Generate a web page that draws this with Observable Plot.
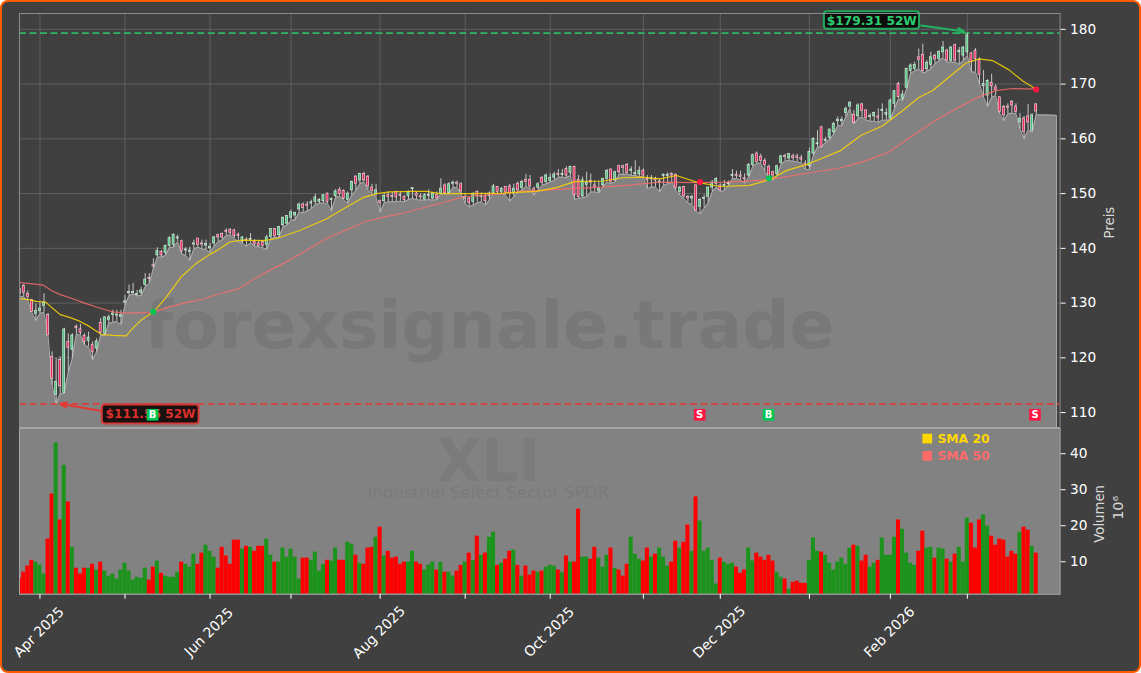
<!DOCTYPE html>
<html><head><meta charset="utf-8">
<script src="https://cdn.jsdelivr.net/npm/d3@7"></script>
<script src="https://cdn.jsdelivr.net/npm/@observablehq/plot@0.6"></script>
<style>
html,body{margin:0;padding:0;background:#fff}
#wrap{position:absolute;left:0;top:0;width:1141px;height:673px;box-sizing:border-box;border:2.5px solid #ff5a00;border-radius:8px;background:#404040;overflow:hidden}
#main,#vol{position:absolute;left:-2.5px}
#main{top:-2.5px}
#vol{top:425.5px}
svg{display:block;overflow:visible}
</style></head><body>
<div id="wrap"><div id="main"></div><div id="vol"></div></div>
<script>
const high=[132.8,133.4,132.2,130.7,129.8,130.1,131.7,128.1,121.1,119.9,
120.2,125.4,124.4,124.4,126,126.1,124.4,124.7,122.9,123.5,
127.2,127.5,127.8,128.7,128.7,128.7,131.4,133.3,133.6,132.3,
132.9,135.4,135.4,138.1,140.1,139.6,140.6,142.1,142.6,142.4,
141.5,140.2,140.2,141.5,141.8,141.5,141.5,140.9,142.2,142.6,
142.8,143.6,143.6,143.4,142.8,142.1,141.9,142.7,141.6,141.5,
141.5,142.4,143.6,143.6,144,145.7,146,147,146.6,148.3,
148.3,148.5,148.8,149.9,149.1,149.8,150.1,149.2,150.7,151.1,
150.7,150.3,152.3,153.3,153.7,153.9,153.3,151.7,151.7,148.8,
150,150.3,150.2,150.4,150.3,149.6,150.5,151.1,150.3,150,
150,150.7,150.2,150.3,152.7,151.8,152,152.3,152.3,152,
150,149.3,150.1,150.5,150.1,150,150.3,151.7,151.3,151.1,
151.3,151.7,151.7,152.1,152.4,153.5,153.3,151.2,152,153.1,
153.6,153.6,153.9,154.4,154.4,154.9,155,155,153.3,153,
153.9,153.6,152.3,152.3,152.8,154.4,154.5,154.1,155.2,155.2,
155.5,154.9,156,154.9,154.5,153.3,153.3,153,152.7,153.6,
153.8,153.8,153.6,151.3,151.3,149.7,149.7,151.6,149.1,149.7,
151.2,152.4,152.9,151.8,152.4,152.3,154.4,154.1,154.1,153.6,
155.5,157.2,157.6,157.2,156.4,155.2,154.1,155.2,157,157.2,
157.3,157.2,157.2,157,156,158.3,160.2,161.5,162.3,160.3,
161.8,163,164,164,165.8,166.8,165.2,166.4,166.5,165.3,
164.6,164.9,165.5,166.4,165.5,167.3,168.8,170.3,168.8,172.9,
173.7,174,176.4,177.3,174.3,175.8,175.5,176.1,177.8,176.4,
176.8,177.3,176.7,176.8,179.31,175.8,176.5,174.8,172.5,170.8,
171.8,169.9,167.7,166.1,166.4,167,166.4,164.6,164.1,166.3,164.6,166.4];
const bodyTop=[132.6,133.1,131.7,130.5,128.6,129,130,127.8,120.2,115.6,
119.6,125.2,122.9,124.1,125.7,125.2,124,123.7,122.4,123,
126.4,127.4,127.4,128.1,127.9,127.8,130.3,132,132,131.7,
132.3,134.3,134.6,136.9,139.5,139.3,140.4,141.9,142.5,142,
141.3,139.8,139.6,140.9,141.8,140.9,140.8,140.3,142,142.4,
142.6,143.2,143.4,143.3,142.5,142,141.6,141.7,141.2,140.9,
141.2,142,143.5,143.5,143.9,145.6,145.9,146.6,146.5,148,
148,148,148.4,149.3,148.8,149.7,150,149,150.4,150.7,
150.5,150,152.1,153.1,153.6,153.6,153.1,151.1,150.6,148.6,
149.6,149.7,149.6,150.3,149.8,149.4,150.3,151,150,149.5,
149.7,149.8,150,149.7,150.9,151.5,151.7,152,152,151.7,
149.4,149.1,150,150.3,149.6,149.5,150,151.3,151.2,150.9,
151.2,151.3,150.9,151.8,152.1,152.5,152.5,150.8,151.7,152.9,
153.3,152.9,153.5,153.6,153.6,154.5,154.9,154.9,152.5,152.4,
152,152.3,151.5,150.9,152.7,154.1,154.4,153.9,155,155,
155.2,154.4,153.8,154.2,154.2,152.7,152.8,152.7,152.2,153.45,
153.45,153.6,153.45,151.1,151.2,149.4,149.4,151.5,148.8,149.2,
151.1,152,152.7,151.5,151.6,151.9,153.45,153.45,153.3,152.8,
155.2,157,157.3,156.7,156,154.9,153.9,155,156.8,156.9,
157.2,156.8,156.8,156.5,155.5,157.6,160,159.2,162.1,159.8,
161.7,162.7,163.5,163.5,165.5,166.6,164.4,166.1,166.3,165.2,
164.2,164.7,164.1,165.3,164.7,167,168.7,170,168.1,172.8,
173.4,173.5,174.9,175.3,173.9,174.9,175.1,175.9,176.7,176.1,
176.7,177.1,176.1,176.7,178.9,175.6,176.1,174.4,170,170.6,
170.2,169.4,167.6,165.8,165.9,166.7,165.9,163.7,163.7,164.1,164.3,166.3];
const bodyBottom=[131.6,131.9,131.1,128.4,128,128.5,129.5,124.1,116.2,113.2,
114.8,113.6,121.8,121.4,125.4,124.6,122.9,123.1,121,121.7,
124.6,124.4,126.9,127.8,127.7,127.5,130.1,131.8,131.8,131.5,
131.9,133.3,134.4,136.7,138.7,138.7,139.2,140.4,140.6,141.8,
139.5,139.6,139.3,140.7,140.6,140.7,140.5,140,140.9,142,
142,143,142.8,142.2,142.3,141.2,141.4,141.5,140.7,140.4,
140.4,140.6,142.1,142.2,142.4,144.2,144.5,145.6,146,147.1,
147.4,147.7,148.2,148.5,148.5,148.6,148.5,148.8,149.5,149.9,
149.1,148.8,150.6,151.8,152.4,152.4,151.3,150.5,150,148.3,
148.6,149.4,149.4,149.3,149.6,148.8,149.5,150.8,149.6,149.3,
148.9,149.6,149.1,149.1,150,150.1,150.1,151.8,151.8,150.4,
149.1,148.3,148.5,149.5,149.4,148.6,149.5,150.1,150.3,150.3,
150.2,150.1,150,150.6,151,152.1,151.3,150.4,151.1,152,
152.1,152.3,152.9,153.4,153.4,153.3,153.8,149.7,149.4,149.5,
151.6,152,151.2,150.4,151.5,152.7,152.1,152.4,153.9,154.7,
153.8,154.1,153.5,153.5,153.3,152.4,152.6,152.4,152,153.2,
153.2,153.3,151,150.3,149.5,149.1,149.1,146.9,147.6,149,
149.4,151.1,151.8,150.6,151.4,151.7,153.2,153.2,153,152.6,
153.3,155.2,155.8,156,155.2,153.1,153.3,153.6,155.6,156.7,
156.4,156.5,156.5,156.2,155.2,155,157.3,159,158.5,159.6,
160.2,161.2,163.2,163.2,164.7,165.9,163,164.1,165.1,163.8,
164,164.1,163.8,165.1,164.4,163.7,166.4,167.6,167.3,169.3,
172.4,172.8,174.4,172.4,172.7,173.5,174.5,174.6,175.8,174.3,
174.2,174.3,175.8,175.2,175.8,174,174.6,171.7,169.6,167.9,
169.6,168.9,164.9,164.3,165.6,166.1,164.9,163,161.3,163,161.5,165];
const low=[131.3,131.1,130.5,128.3,126.8,128.1,128.3,124.1,115,111.55,
113.5,113.5,117.4,119.9,124.4,124.1,122.3,122,119.6,121.1,
124.1,124.1,126.3,126.5,126.6,126.1,129.6,131.4,131.7,131.3,
131.4,133,133.6,136.3,138.4,138.4,138.7,140.2,140.2,141.2,
139,138.7,137.8,139.9,140.2,139.9,139.8,139.2,140.4,141.2,
141.5,142.4,142.4,141.8,141.2,140.9,140.4,141,140.4,140.3,
140.1,139.8,141.8,142,142,143.9,144.2,145.1,145.2,146.6,
146.5,146.8,147.2,148,148.2,148.3,148.2,146.8,149.3,149.5,
148.9,148.2,149.7,150.6,151.8,152.1,150.6,150.1,149.3,146.6,
148.3,148.5,148.5,148.5,148.6,148.5,148.9,149.1,148.9,148.8,
148.8,148.9,148.8,148.9,150,150,150,151.1,151.1,150,
148.2,147.6,147.9,148.3,148.5,147.9,148.9,150,150,150,
149.7,148.6,149.4,150.3,150.6,151.3,150.9,149.7,150.7,151.5,
151.8,152.1,152.4,153,153,152.9,153.3,148.9,149.1,149.3,
149.4,150.3,150.3,150.1,151.2,152.1,151.8,152.1,153.6,153.5,
153.6,153.3,153.3,153.1,153,150.9,151.2,151.2,150.3,151.5,
151.8,152.1,150.6,149.7,149.1,148.3,148,146.8,146.3,147.3,
148.3,150.3,151.2,150.3,150.6,151.5,152.7,152.7,152.5,151.9,
153,154.9,155.6,155.5,154.1,152.9,152.4,153.3,155.3,156,
156,155.9,155.8,155.6,154.4,154.4,157,158.5,158.5,159.4,
159.8,160.9,162.4,162.4,164,165.5,162.7,163.7,164,163.4,
163.2,163.2,163,163.4,163.4,163.5,165.5,167.3,167,169.1,
172,172.4,172.8,172,172.3,172.8,173.7,174.3,174.8,174,
174,174,173.6,174.3,175.2,172.2,172.2,170,167.6,165.9,
167.6,167.9,164.6,163.3,164.6,164.7,164.6,161.8,160,161.6,161.2,164.4];
const sides=("RRRRGGGRRG"+"RGRGRRRGRG"+"RGGGGGGGGG"+"GGRRGRGGGG"+"RGGGRRGGGR"+"RRRRRGRGRR"+"RGGRGGGGGG"+
"RRGGGGRGGR"+"RGGRGRRRGR"+"GRRRRRGGRR"+"GGGRGRGGRR"+"GRGRGRGGRG"+"RRGRGRRRGR"+"GGGRGRGRRG"+"GRRGGGRGRR"+
"RGGGRRGRGG"+"GRRGRRGRGG"+"GGGRGGGRRR"+"GGRRRRRGGR"+"GRRRRGGGRG"+"GGGGGGRGRR"+"GGRGGGGRGG"+"GGRRGGRGGR"+
"GRGGGRRRGG"+"RRRRRRRGRRGR").split("");
const volume=[5.4,7.1,8.8,10.4,9.9,9.1,6.6,16.3,28.8,43,
21.6,36.8,26.6,14,8.2,6.6,8.2,8.2,9.3,7.7,
9.9,7.4,6,6.6,5.2,7.7,9.6,7.4,4.9,5.7,
5.4,8.2,4.9,8.5,10.2,6.8,6,5.7,5.7,7.1,
9.9,9.3,8.5,12.1,9.3,12.4,14.6,12.9,11.3,8.2,
14,11.6,9.3,16,16,13.5,14.3,14,12.9,14.3,
14.3,16.3,11.8,9.9,9.9,13.8,11.3,13.5,11.3,5.2,
11,11,10.4,12.7,7.4,9.3,10.4,10.2,13.8,10.4,
10.4,15.4,14.9,11.8,9.6,9.3,13.8,14,16.8,19.6,
11.6,12.9,11,11.3,9.3,9.9,9.9,12.9,9.9,9.3,
7.7,9.1,9.9,7.7,9.9,7.1,7.1,6,7.4,9,
9.9,12.4,10.3,17.1,11.8,12.4,16.8,18.2,9,9.6,
10.7,12.9,13.2,9,6,8.8,6.3,7.4,7.1,7.4,
8.5,9,8.8,7.7,7.1,11.6,9.9,9.9,24.6,11.3,
11.3,10.7,14,11,8.5,11.8,13.8,8.2,7.7,6,
9.3,16.8,12.1,10.7,10.2,13.8,11.3,12.1,13.8,11.3,
8.8,9.9,15.7,13.8,15.4,20.2,12.9,28,21.3,12.9,
13.8,10.4,3.8,11,9.9,9.3,9.6,8.5,6.8,7.7,
13.8,10.2,12.4,11.3,10.4,11.8,10.2,7.1,5.7,5.2,
2.4,4.3,4.6,4,4,10.4,16.6,12.9,12.7,11.8,
9.6,7.7,9.9,11,9.3,13.8,14.6,14.3,10.2,11.8,
8.5,9.6,10.4,16.6,11.8,11.8,16.8,21.6,19,12.4,
9.6,9,12.9,18.5,13.8,14,11,13.8,13.5,10.7,
9.9,12.1,14,9.9,22.1,20.7,13.8,21.6,23,19.9,
17.1,14.6,16.3,16,11.3,12.9,12.1,18.2,19.6,18.8,14.3,12.4];
const sma20Idx=[0,2.5,4.1,6.4,8.2,10,12.3,14.8,17.3,20.1,23,26.3,27.9,30,33.1,36.2,39.9,43.5,47,49.3,52,55.3,60.2,63.5,69.3,75.8,80.8,84.9,88.2,91.4,97.2,100.5,103.8,111.2,119.4,127.6,132.5,137.1,144.1,149,153.9,158,162.2,167.1,172.8,180.2,185,189.3,194.2,198.3,202.8,207.7,213.1,217.6,222.1,225.4,229.5,233.6,236.9,240.2,244.3,247.6,250.9];
const sma20=[130.8,130.6,130.3,130.2,129,127.9,127.4,126.7,125.7,124.3,124.1,124,125.4,126.9,128.4,131.1,134.8,137.2,138.9,139.9,141.2,141.5,141.4,141.8,143.3,145.4,147.6,149.3,150,150.3,150.4,150.4,150,150,150.1,150.4,151.1,152.2,152.3,152.9,153,152.7,153.3,152.1,151.3,151.5,152.5,154.2,155.3,156.5,157.9,160.6,162.4,164.9,167.6,168.8,171.3,173.8,174.6,174.3,172.6,170.6,169.1];
const sma50Idx=[0,3.3,5.8,7.8,9.9,13.1,16.4,19.7,23,25.5,28.8,32.9,37,41.1,45.2,49.3,54,59.4,66.8,70.9,75.8,80.8,85.7,90.6,95.5,100.5,103.8,109.5,114.4,119.4,123.5,129.2,135.8,141.6,149.8,158,167.9,174.5,184.3,190.9,195.8,201.6,208.1,214.7,220.5,226.2,232,236.9,241,245.1,250.9];
const sma50=[133.75,133.5,133.3,132.3,131.6,130.8,129.9,129.1,128.4,128.2,128.2,128.3,129.3,130.1,130.7,131.7,132.6,135.1,137.9,139.7,141.8,143.4,145,145.8,146.6,147.6,148.2,149.4,149.7,150,150.4,150.6,150.9,151.1,151.5,152.1,152,152.1,152.5,153.3,153.9,154.5,155.8,157.6,160.6,163.4,165.8,167.7,168.8,169.2,169.1];
const priceTicks=[110,120,130,140,150,160,170,180];
const volumeTicks=[10,20,30,40];
const dateTickIdx=[5,26,47,67,89,110,131,154,173,195,215,234];
const dateTickLabels=["Apr 2025","","Jun 2025","","Aug 2025","","Oct 2025","","Dec 2025","","Feb 2026",""];
const crossIdx=[33,168,185,251], crossPrice=[128.4,152.1,152.8,169], crossKind=["B","S","B","S"];
const signalIdx=[32.8,167.9,184.9,250.7], signalKind=["B","S","B","S"];
const signalPrice=109.6;
const high52=179.31, low52=111.6;
const xDomain=[-0.05,256.9], priceDomain=[107.2,182.9], volDomain=[0.97,47];
const areaEndIdx=256, areaEndLow=164.3;

const GREEN="#00c853", RED="#ff1744", FONT="'DejaVu Sans',sans-serif";
const bars=high.map((h,i)=>({i,h,top:bodyTop[i],bot:bodyBottom[i],low:low[i],side:sides[i],vol:volume[i]}));
const edge=[...bars.map(d=>({i:d.i,low:d.low})),{i:areaEndIdx,low:areaEndLow},{i:areaEndIdx,low:priceDomain[0]}];
const sel20=sma20.map((v,k)=>({i:sma20Idx[k],v})), sel50=sma50.map((v,k)=>({i:sma50Idx[k],v}));
const crosses=crossIdx.map((i,k)=>({i,p:crossPrice[k],c:crossKind[k]=="B"?GREEN:RED}));
const signals=signalIdx.map((i,k)=>({i,p:signalPrice,t:signalKind[k],c:signalKind[k]=="B"?GREEN:RED}));
const ticks=dateTickIdx.map((i,k)=>({i,t:dateTickLabels[k]}));

const mainPlot=Plot.plot({
  width:1141,height:428,marginLeft:19,marginRight:80,marginTop:13,marginBottom:0,
  style:{background:"transparent",color:"#fff",fontFamily:FONT,fontSize:"13.7px",overflow:"visible"},
  x:{domain:xDomain,axis:null},y:{domain:priceDomain,axis:null},
  marks:[
    Plot.ruleX(dateTickIdx,{stroke:"#5e5e5e",strokeWidth:1}),
    Plot.ruleY(priceTicks,{stroke:"#5e5e5e",strokeWidth:1}),
    Plot.areaY(edge,{x:"i",y1:priceDomain[0],y2:"low",fill:"#828282",clip:true}),
    Plot.line(edge,{x:"i",y:"low",stroke:"#adadad",strokeWidth:1,clip:true}),
    Plot.text(["forexsignale.trade"],{x:116,y:125.7,text:d=>d,fontSize:66.3,fontWeight:"bold",fill:"#404040",fillOpacity:.14,lineAnchor:"middle"}),
    Plot.ruleY([high52],{stroke:"#2fb565",strokeWidth:1.8,strokeDasharray:"7,3.5"}),
    Plot.ruleY([low52],{stroke:"#d8403f",strokeWidth:1.8,strokeDasharray:"7,3.5"}),
    Plot.ruleX(bars,{x:"i",y1:"low",y2:"h",stroke:"#c6c6c6",strokeWidth:1,clip:true}),
    Plot.rect(bars,{x1:d=>d.i-.25,x2:d=>d.i+.25,y1:"bot",y2:"top",fill:d=>d.side=="G"?"#4cc47f":"#e82a5c",stroke:d=>d.side=="G"?"#e6f5ea":"#fbdde5",strokeWidth:.6,clip:true}),
    Plot.line(sel50,{x:"i",y:"v",stroke:"#ff6b6b",strokeWidth:1.2,strokeOpacity:.8}),
    Plot.line(sel20,{x:"i",y:"v",stroke:"#ffd700",strokeWidth:1.2,strokeOpacity:.85}),
    Plot.dot(crosses,{x:"i",y:"p",fill:"c",r:3}),
    Plot.arrow([{}],{x1:()=>222.6,y1:()=>180.7,x2:()=>233.2,y2:()=>179.6,stroke:"#22b35e",strokeWidth:2,headLength:5,headAngle:45,bend:0}),
    Plot.rect([{}],{x1:()=>198.7,x2:()=>222.2,y1:()=>180.0,y2:()=>183.2,fill:"#0c0c0c",stroke:"#22a95c",strokeWidth:2,rx:3}),
    Plot.text(["$179.31 52W"],{x:()=>210.4,y:()=>181.6,text:d=>d,fill:"#2ecc71",fontWeight:"bold",fontSize:12.2,lineAnchor:"middle"}),
    Plot.arrow([{}],{x1:()=>20.2,y1:()=>110.3,x2:()=>10,y2:()=>111.6,stroke:"#e53935",strokeWidth:2,headLength:5,headAngle:45,bend:0}),
    Plot.rect([{}],{x1:()=>20.4,x2:()=>44.3,y1:()=>107.9,y2:()=>111.4,fill:"#1a1010",stroke:"#d63a38",strokeWidth:2,rx:3}),
    Plot.text(["$111.55 52W"],{x:()=>32.3,y:()=>109.65,text:d=>d,fill:"#d9302e",fontWeight:"bold",fontSize:12.2,lineAnchor:"middle"}),
    Plot.dot(signals,{x:"i",y:"p",fill:"c",symbol:"square",r:6.6}),
    Plot.text(signals,{x:"i",y:"p",text:"t",fill:"#fff",fontWeight:"bold",fontSize:10,lineAnchor:"middle"}),
    Plot.frame({stroke:"#8c8c8c",strokeWidth:1}),
    Plot.ruleY([priceDomain[0]],{stroke:"#a6a6a6",strokeWidth:2}),
    Plot.axisY(priceTicks,{anchor:"right",tickSize:5,tickPadding:5,label:null}),
    Plot.text(["Preis"],{y:()=>144.7,frameAnchor:"right",textAnchor:"middle",dx:50,text:d=>d,rotate:-90,fill:"#d8d8d8",fontSize:13.3,lineAnchor:"middle"})
  ]
});
document.getElementById("main").append(mainPlot);

const volPlot=Plot.plot({
  width:1141,height:245,marginLeft:19,marginRight:80,marginTop:0,marginBottom:79,
  style:{background:"transparent",color:"#fff",fontFamily:FONT,fontSize:"13.7px",overflow:"visible"},
  x:{domain:xDomain,axis:null},y:{domain:volDomain,axis:null},
  marks:[
    Plot.frame({fill:"#828282"}),
    Plot.text(["XLI"],{x:()=>115.7,y:()=>37.5,text:d=>d,fontSize:58,fontWeight:"bold",fill:"#404040",fillOpacity:.1,lineAnchor:"middle"}),
    Plot.text(["Industrial Select Sector SPDR"],{x:()=>115.7,y:()=>29.2,text:d=>d,fontSize:16.5,fill:"#404040",fillOpacity:.12,lineAnchor:"middle"}),
    Plot.rect(bars,{x1:d=>d.i-.5,x2:d=>d.i+.5,y1:volDomain[0],y2:"vol",fill:d=>d.side=="G"?"#1c941c":"#ff0000",clip:true}),
    Plot.dot([{}],{x:()=>224.1,y:()=>44.2,symbol:"square",r:5.5,fill:"#ffd700"}),
    Plot.dot([{}],{x:()=>224.1,y:()=>39.4,symbol:"square",r:5.5,fill:"#ff6b6b"}),
    Plot.text(["SMA 20"],{x:()=>226.6,y:()=>44.2,text:d=>d,textAnchor:"start",fill:"#ffd700",fontWeight:"bold",fontSize:12.4,lineAnchor:"middle"}),
    Plot.text(["SMA 50"],{x:()=>226.6,y:()=>39.4,text:d=>d,textAnchor:"start",fill:"#ff6b6b",fontWeight:"bold",fontSize:12.4,lineAnchor:"middle"}),
    Plot.frame({stroke:"#a6a6a6",strokeWidth:1}),
    Plot.axisY(volumeTicks,{anchor:"right",tickSize:5,tickPadding:5,label:null}),
    Plot.axisX(dateTickIdx,{anchor:"bottom",tickSize:5,tickFormat:()=>null,label:null}),
    Plot.text(ticks,{x:"i",frameAnchor:"bottom",dy:38,dx:-1,text:"t",rotate:-45,fill:"#fff",fontSize:14,lineAnchor:"middle"}),
    Plot.text(["Volumen"],{y:()=>23.3,frameAnchor:"right",textAnchor:"middle",dx:40,text:d=>d,rotate:-90,fill:"#d8d8d8",fontSize:13.3,lineAnchor:"middle"}),
    Plot.text(["10⁶"],{y:()=>25,frameAnchor:"right",textAnchor:"middle",dx:58.5,text:d=>d,rotate:-90,fill:"#d8d8d8",fontSize:14.5,lineAnchor:"middle"})
  ]
});
document.getElementById("vol").append(volPlot);
</script></body></html>
